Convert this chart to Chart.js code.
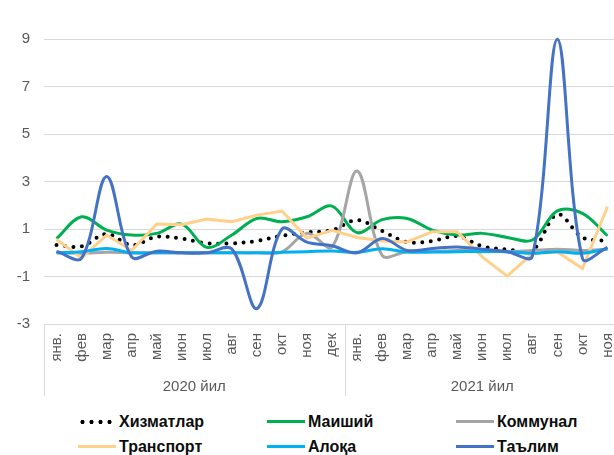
<!DOCTYPE html>
<html>
<head>
<meta charset="utf-8">
<script src="https://cdn.jsdelivr.net/npm/chart.js@4.4.1/dist/chart.umd.min.js"></script>
<style>
  html, body { margin: 0; padding: 0; background: #fff; overflow: hidden; width: 614px; height: 455px; }
  #wrap { position: relative; width: 614px; height: 455px; overflow: hidden; }
  #c { position: absolute; left: 0; top: 0; }
  #legend { position: absolute; left: 78px; top: 409px; display: grid; grid-template-columns: 189px 189px 189px; font: bold 16px "Liberation Sans", Arial, sans-serif; color: #0d0d0d; }
  #legend div { height: 25px; line-height: 25px; white-space: nowrap; }
  #legend span.s { display: inline-block; width: 38px; height: 3px; vertical-align: middle; margin-right: 3px; position: relative; top: -1px; }
</style>
</head>
<body>
<div id="wrap">
  <canvas id="c" width="620" height="400"></canvas>
  <div id="legend"></div>
</div>
<script>
  // categories and groups
  const categories = ['янв.', 'фев', 'мар', 'апр', 'май', 'июн', 'июл', 'авг', 'сен', 'окт', 'ноя', 'дек',
                      'янв.', 'фев', 'мар', 'апр', 'май', 'июн', 'июл', 'авг', 'сен', 'окт', 'ноя'];
  const years = ['2020 йил', '2021 йил'];
  const yearCounts = [12, 11];
  const yTicks = [-3, -1, 1, 3, 5, 7, 9];

  // series values
  const xizmatlar = [0.33, 0.27, 0.8, 0.32, 0.68, 0.6, 0.4, 0.4, 0.5, 0.72, 0.87, 0.95,
                     1.38, 0.92, 0.45, 0.5, 0.7, 0.28, 0.14, 0.1, 1.62, 0.65, 0.5];
  const maishiy = [0.6, 1.52, 0.96, 0.75, 0.82, 1.21, 0.23, 0.75, 1.45, 1.31, 1.52, 1.97,
                   0.85, 1.4, 1.45, 0.96, 0.75, 0.82, 0.65, 0.54, 1.77, 1.66, 0.72];
  const kommunal = [0, -0.02, 0.02, 0, 0, 0, 0, 0, 0, 0.04, 0.82, 0.25,
                    3.45, -0.1, 0.05, 0.05, 0.1, 0.1, 0.05, 0.1, 0.15, 0.1, 0.15];
  const transport = [0.56, -0.22, 0.75, 0.1, 1.21, 1.18, 1.42, 1.31, 1.59, 1.76, 0.62, 0.95,
                     0.65, 0.5, 0.46, 0.89, 0.89, -0.17, -0.98, -0.03, 0.04, -0.66, 1.94];
  const aloqa = [0, 0.05, 0.18, 0, 0, 0, 0, 0, 0, 0.02, 0.05, 0.08,
                 0.02, 0.17, 0.03, 0.03, 0.05, 0.05, 0.05, -0.02, 0.05, -0.02, 0.17];
  const talim = [0.06, -0.22, 3.22, -0.17, 0.07, 0, 0, 0.16, -2.35, 1.0, 0.45, 0.3,
                 0.0, 0.6, 0.1, 0.18, 0.25, 0.15, 0.05, -0.14, 9.0, -0.24, 0.23];

  const tickFont = { family: '"Liberation Sans", Arial, sans-serif', size: 15 };

  // draws the year row under the month labels
  const yearGroups = {
    id: 'yearGroups',
    afterDraw(chart) {
      const { ctx, chartArea } = chart;
      const x = chart.scales.x;
      const half = (x.getPixelForValue(1) - x.getPixelForValue(0)) / 2;
      const top = chartArea.bottom, bottom = top + 72;
      ctx.save();
      ctx.strokeStyle = '#D9D9D9';
      ctx.lineWidth = 1;
      ctx.fillStyle = '#595959';
      ctx.font = '15px "Liberation Sans", Arial, sans-serif';
      ctx.textAlign = 'center';
      ctx.textBaseline = 'middle';
      let start = 0;
      years.forEach((label, i) => {
        const end = start + yearCounts[i] - 1;
        const left = x.getPixelForValue(start) - half;
        const right = x.getPixelForValue(end) + half;
        const lx = Math.round(left) + 0.5;
        ctx.beginPath();
        ctx.moveTo(lx, top);
        ctx.lineTo(lx, bottom);
        ctx.stroke();
        ctx.fillText(label, (left + right) / 2, top + 63);
        start = end + 1;
      });
      ctx.restore();
    }
  };

  const chart = new Chart(document.getElementById('c'), {
    type: 'line',
    data: {
      labels: categories,
      datasets: [
        { label: 'Хизматлар', data: xizmatlar, borderColor: '#000000', borderWidth: 4,
          borderDash: [0, 8.5], borderCapStyle: 'round', order: 5 },
        { label: 'Маиший', data: maishiy, borderColor: '#00B050', order: 4 },
        { label: 'Коммунал', data: kommunal, borderColor: '#A5A5A5', order: 3 },
        { label: 'Транспорт', data: transport, borderColor: '#FFD08C', tension: 0, order: 2 },
        { label: 'Алоқа', data: aloqa, borderColor: '#00B0F0', order: 1 },
        { label: 'Таълим', data: talim, borderColor: '#4472C4', order: 0 }
      ]
    },
    options: {
      responsive: false,
      animation: false,
      layout: { padding: 0 },
      elements: {
        line: { borderWidth: 3, tension: 0.35, fill: false },
        point: { radius: 0, hoverRadius: 0 }
      },
      plugins: {
        legend: { display: false },
        tooltip: { enabled: false }
      },
      scales: {
        x: {
          offset: true,
          grid: { display: false, drawTicks: false, offset: true },
          border: { display: false },
          ticks: { minRotation: 90, maxRotation: 90, autoSkip: false, padding: 9, color: '#595959', font: tickFont },
          afterFit(s) { s.height = 76; s.paddingLeft = 0; s.paddingRight = 0; }
        },
        y: {
          min: -3,
          max: 10.657,
          grid: { color: '#D9D9D9', drawTicks: false },
          border: { display: false },
          ticks: { padding: 14, color: '#595959', font: tickFont },
          afterBuildTicks(s) { s.ticks = yTicks.map(v => ({ value: v })); },
          afterFit(s) { s.width = 44; s.paddingTop = 0; s.paddingBottom = 0; }
        }
      }
    },
    plugins: [yearGroups]
  });

  // legend in three columns, same order as the datasets
  const legend = document.getElementById('legend');
  chart.data.datasets.forEach(ds => {
    const item = document.createElement('div');
    const s = document.createElement('span');
    s.className = 's';
    if (ds.borderDash) {
      s.style.height = '4px';
      s.style.background = 'radial-gradient(circle, ' + ds.borderColor + ' 1.8px, transparent 2.3px) 0 0 / 9px 4px repeat-x';
    } else {
      s.style.background = ds.borderColor;
    }
    item.appendChild(s);
    item.appendChild(document.createTextNode(ds.label));
    legend.appendChild(item);
  });
</script>
</body>
</html>
